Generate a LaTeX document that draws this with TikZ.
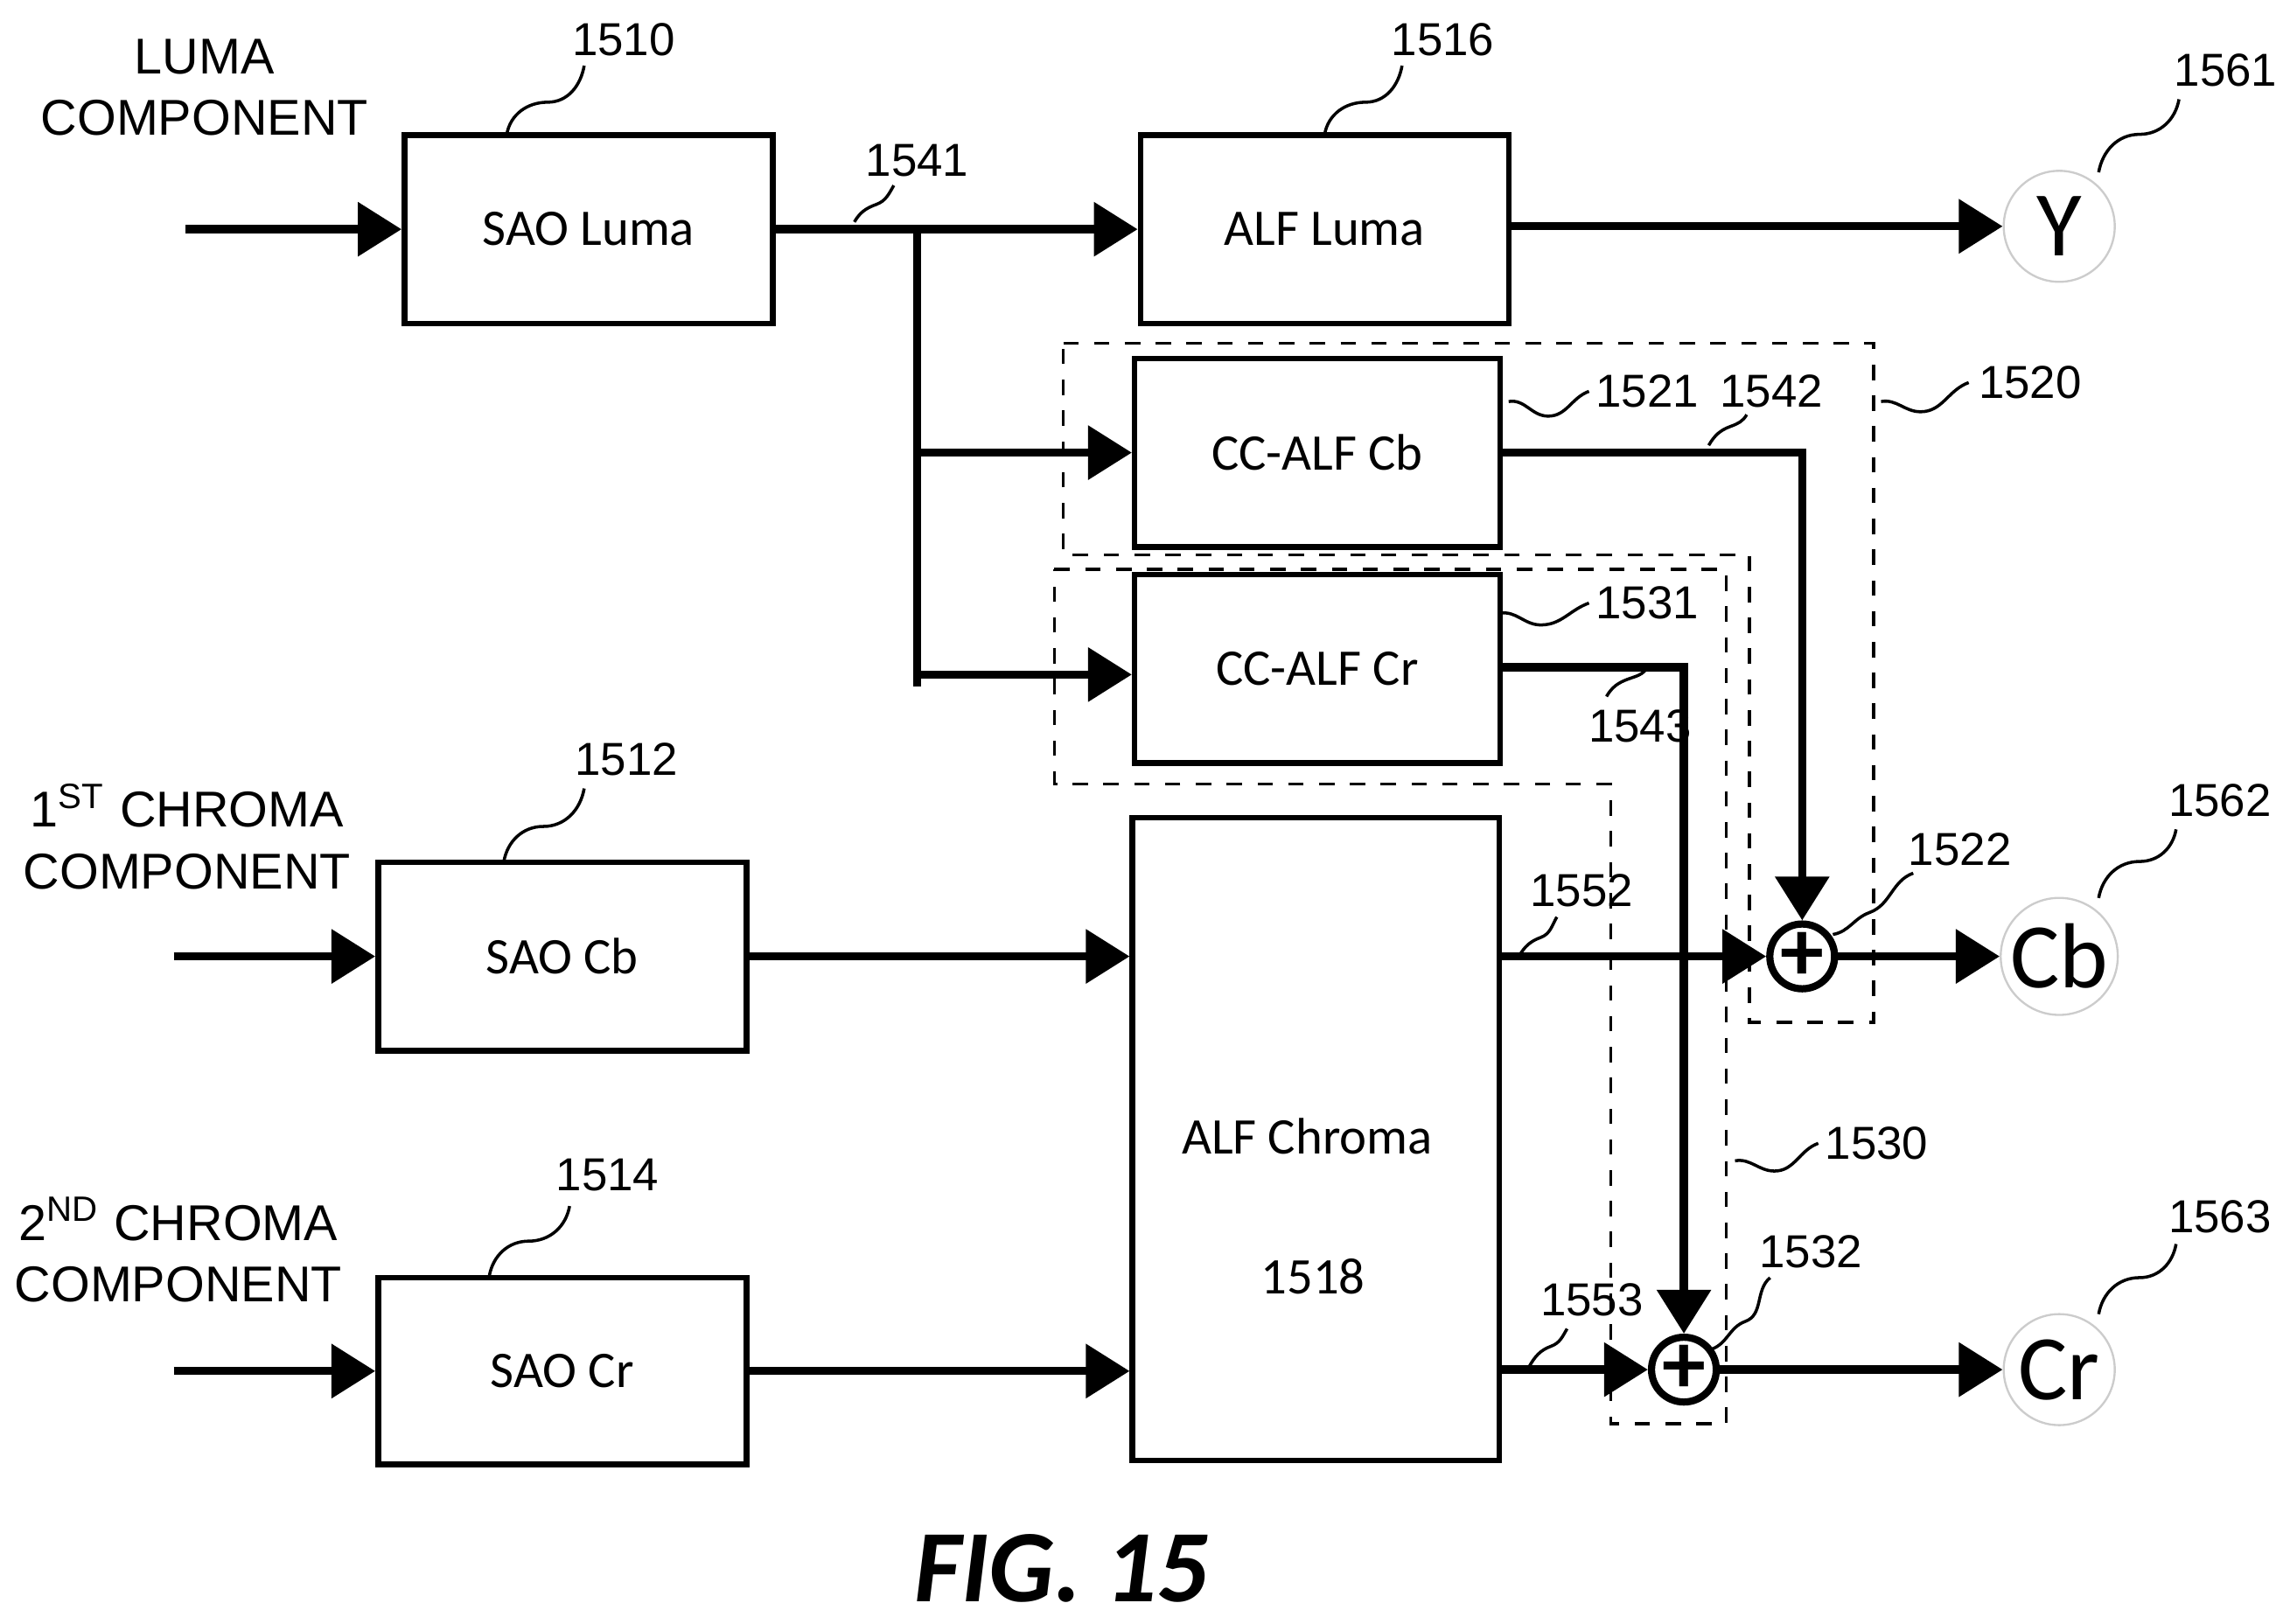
\documentclass[tikz,border=0pt]{standalone}
\usepackage{fontspec}
\setmainfont{Liberation Sans}
\newfontfamily\boxfont{Carlito}
\usetikzlibrary{arrows.meta,positioning}
\tikzset{
  blk/.style={draw, line width=1.1pt, minimum width=2.52cm, minimum height=1.29cm, font=\boxfont\fontsize{10}{12}\selectfont},
  arr/.style={line width=1.6pt, -{Triangle[length=0.3cm,width=0.36cm]}},
  ln/.style={line width=1.6pt},
  outc/.style={circle, draw=black!20, minimum size=0.76cm, inner sep=0pt, font=\boxfont\fontsize{18}{20}\selectfont},
  adder/.style={circle, draw, line width=1.4pt, minimum size=0.42cm, inner sep=0pt, font=\boxfont\bfseries\fontsize{17}{17}\selectfont},
  dbox/.style={dashed, line width=0.6pt},
  ref/.style={font=\fontsize{9}{10}\selectfont},
  lead/.style={line width=0.6pt},
  comp/.style={align=center, font=\fontsize{9.8}{12}\selectfont}
}
\begin{document}
\begin{tikzpicture}[x=0.01cm,y=-0.01cm]
  \useasboundingbox (0,0) rectangle (1568,1112);
  % blocks
  \node[blk] (saol) at (403,157) {SAO Luma};
  \node[blk] (alfl) at (907,157) {ALF Luma};
  \node[blk, minimum width=2.5cm] (ccb) at (902,310) {CC-ALF Cb};
  \node[blk, minimum width=2.5cm] (ccr) at (902,458) {CC-ALF Cr};
  \node[blk] (saob) at (385,655) {SAO Cb};
  \node[blk, minimum height=1.28cm] (saor) at (385,939) {SAO Cr};
  \node[blk, minimum width=2.51cm, minimum height=4.4cm] (alfc) at (901,780) {};
  \node[font=\boxfont\fontsize{10}{12}\selectfont] (alfct) at (895,778) {ALF Chroma};
  \node[font=\boxfont\fontsize{10}{12}\selectfont] (alfcn) at (899,874) {1518};
  % outputs
  \node[outc] (y) at (1410,155) {Y};
  \node[outc] (cb) at (1410,655) {Cb};
  \node[outc] (cr) at (1410,938) {Cr};
  \node[adder] (addb) at (1234,655) {+};
  \node[adder] (addr) at (1153,938) {+};
  % inputs
  \coordinate (inl) at (127,157);
  \coordinate (inb) at (119,655);
  \coordinate (inr) at (119,939);
  \node[comp] (tl) at (140,60) {LUMA\\COMPONENT};
  \node[comp] (tb) at (128,573) {1\textsuperscript{ST} CHROMA\\COMPONENT};
  \node[comp] (tr) at (122,856) {2\textsuperscript{ND} CHROMA\\COMPONENT};
  \draw[arr] (inl) -- (saol);
  \draw[arr] (inb) -- (saob);
  \draw[arr] (inr) -- (saor);
  % luma branch
  \coordinate (j1) at (628,157);
  \coordinate (j2) at (628,310);
  \coordinate (j3) at (628,470);
  \draw[arr] (saol) -- (alfl);
  \draw[ln] (j1) -- (j3);
  \draw[arr] (j2) -- (ccb.west);
  \draw[arr] (628,462) -- (ccr.west |- 628,462);
  \draw[arr] (alfl.east |- y) -- (y);
  % chroma
  \draw[arr] (saob) -- (saob -| alfc.west);
  \draw[arr] (saor) -- (saor -| alfc.west);
  \draw[arr] (alfc.east |- addb) -- (addb);
  \draw[arr] (alfc.east |- addr) -- (addr);
  \draw[arr] (ccb.east) -| (addb);
  \draw[arr] (ccr.east |- 0,457) -| (addr);
  \draw[arr] (addb) -- (cb);
  \draw[arr] (addr) -- (cr);
  % dashed groups
  \draw[dbox] (728,235) -- (1283,235) -- (1283,700) -- (1198,700) -- (1198,380) -- (728,380) -- cycle;
  \draw[dbox] (722,390) -- (1182,390) -- (1182,975) -- (1103,975) -- (1103,537) -- (722,537) -- cycle;
  % reference numerals
  \node[ref] (r1510) at (427,27) {1510};
  \node[ref] (r1516) at (988,27) {1516};
  \node[ref] (r1561) at (1524,48) {1561};
  \node[ref] (r1541) at (628,110) {1541};
  \node[ref] (r1521) at (1128,268) {1521};
  \node[ref] (r1542) at (1213,268) {1542};
  \node[ref] (r1520) at (1390,262) {1520};
  \node[ref] (r1531) at (1128,413) {1531};
  \node[ref] (r1543) at (1123,497) {1543};
  \node[ref] (r1512) at (429,520) {1512};
  \node[ref] (r1562) at (1520,548) {1562};
  \node[ref] (r1552) at (1083,610) {1552};
  \node[ref] (r1522) at (1342,582) {1522};
  \node[ref] (r1530) at (1285,783) {1530};
  \node[ref] (r1514) at (416,805) {1514};
  \node[ref] (r1563) at (1520,833) {1563};
  \node[ref] (r1532) at (1240,857) {1532};
  \node[ref] (r1553) at (1090,890) {1553};
  % leaders
  \draw[lead] (347,92) to[out=80,in=180] (375,70) to[out=0,in=260] (400,45);
  \draw[lead] (907,92) to[out=80,in=180] (935,70) to[out=0,in=260] (960,45);
  \draw[lead] (1437,118) to[out=80,in=180] (1465,92) to[out=0,in=260] (1492,68);
  \draw[lead] (585,152) to[out=60,in=200] (600,140) to[out=20,in=240] (612,127);
  \draw[lead] (1033,275) to[out=10,in=180] (1060,285) to[out=0,in=200] (1088,268);
  \draw[lead] (1170,305) to[out=60,in=200] (1185,292) to[out=20,in=240] (1196,284);
  \draw[lead] (1288,275) to[out=10,in=180] (1315,282) to[out=0,in=200] (1348,262);
  \draw[lead] (1027,420) to[out=10,in=180] (1055,428) to[out=0,in=200] (1088,413);
  \draw[lead] (1100,477) to[out=60,in=200] (1115,465) to[out=20,in=240] (1128,457);
  \draw[lead] (345,590) to[out=80,in=180] (372,566) to[out=0,in=260] (400,540);
  \draw[lead] (1437,615) to[out=80,in=180] (1465,590) to[out=0,in=260] (1490,568);
  \draw[lead] (1040,655) to[out=60,in=200] (1055,642) to[out=20,in=240] (1066,628);
  \draw[lead] (1255,640) to[out=10,in=200] (1280,625) to[out=20,in=200] (1310,598);
  \draw[lead] (1188,795) to[out=10,in=180] (1215,802) to[out=0,in=200] (1245,783);
  \draw[lead] (335,874) to[out=80,in=180] (362,850) to[out=0,in=260] (390,826);
  \draw[lead] (1437,900) to[out=80,in=180] (1465,875) to[out=0,in=260] (1490,852);
  \draw[lead] (1172,924) to[out=20,in=200] (1195,905) to[out=20,in=220] (1212,875);
  \draw[lead] (1047,936) to[out=60,in=200] (1062,922) to[out=20,in=240] (1073,910);
  % caption
  \node[font=\boxfont\bfseries\itshape\fontsize{20}{22}\selectfont] (fig) at (727,1074) {FIG. 15};
\end{tikzpicture}
\end{document}
